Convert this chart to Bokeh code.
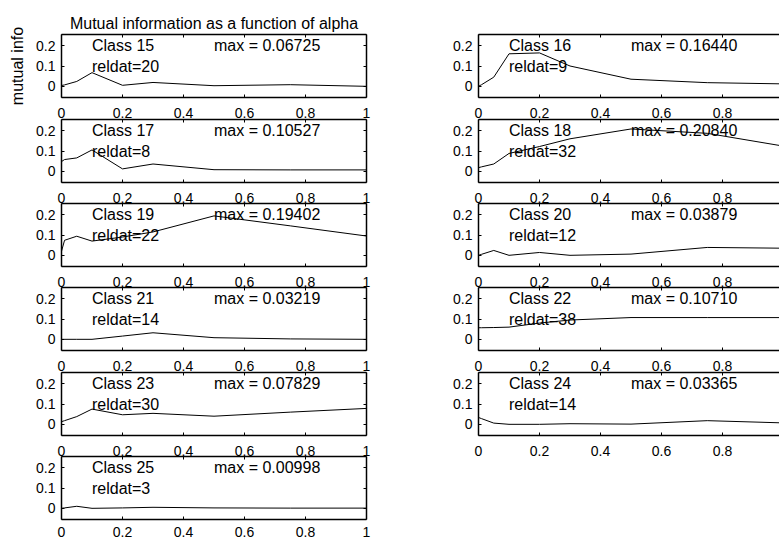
from bokeh.plotting import figure
from bokeh.layouts import row, column
from bokeh.models import LinearAxis, FixedTicker, Range1d, ColumnDataSource, CustomJSTickFormatter
from bokeh.core.properties import value
from bokeh.embed import file_html
from bokeh.resources import INLINE

# alpha grid shared by every class
alpha = [0.0, 0.01, 0.05, 0.1, 0.2, 0.3, 0.5, 0.75, 1.0]

# mutual information per class, one value per alpha
mi_15 = [0.004, 0.007, 0.024, 0.06725, 0.005, 0.019, 0.003, 0.008, 0.000]
mi_16 = [0.000, 0.008, 0.045, 0.160, 0.16440, 0.100, 0.035, 0.018, 0.012]
mi_17 = [0.048, 0.058, 0.066, 0.10527, 0.012, 0.036, 0.008, 0.007, 0.007]
mi_18 = [0.018, 0.022, 0.036, 0.088, 0.122, 0.160, 0.20840, 0.187, 0.124]
mi_19 = [0.020, 0.074, 0.094, 0.070, 0.090, 0.115, 0.19402, 0.145, 0.095]
mi_20 = [0.000, 0.005, 0.024, 0.000, 0.014, 0.000, 0.006, 0.03879, 0.035]
mi_21 = [0.000, 0.000, 0.000, 0.000, 0.016, 0.03219, 0.008, 0.002, 0.000]
mi_22 = [0.057, 0.057, 0.058, 0.060, 0.080, 0.095, 0.10710, 0.1070, 0.1069]
mi_23 = [0.013, 0.018, 0.038, 0.075, 0.047, 0.054, 0.040, 0.060, 0.07829]
mi_24 = [0.03365, 0.028, 0.006, 0.000, 0.000, 0.003, 0.001, 0.018, 0.007]
mi_25 = [0.000, 0.002, 0.00998, 0.000, 0.002, 0.005, 0.002, 0.001, 0.001]

classes = [15, 16, 17, 18, 19, 20, 21, 22, 23, 24, 25]
series = [mi_15, mi_16, mi_17, mi_18, mi_19, mi_20, mi_21, mi_22, mi_23, mi_24, mi_25]
reldat = [20, 9, 8, 32, 22, 12, 14, 38, 30, 14, 3]

x_ticks = [0, 0.2, 0.4, 0.6, 0.8, 1.0]
y_ticks = [0, 0.1, 0.2]

FONT = "Liberation Sans"
Y_RANGE = (-0.055, 0.255)
FRAME_W = 305
FRAME_H = 63
LEFT_W = 376
RIGHT_W = 779 - LEFT_W
RIGHT_FRAME_X = 478
ROW_H = [118, 84, 84, 85, 84, 88]   # vertical pitch of each row of panels
OV = 7                               # tick labels may hang into the panel below
BOX_W = 1.5


def tick_axis(ticks, labelled, standoff=3):
    ax = LinearAxis(
        ticker=FixedTicker(ticks=ticks),
        axis_line_color="black", axis_line_width=BOX_W,
        major_tick_in=3, major_tick_out=0,
        major_tick_line_color="black", major_tick_line_width=1,
        minor_tick_line_color=None,
    )
    if labelled:
        ax.formatter = CustomJSTickFormatter(code="return tick.toString();")
        ax.major_label_text_font = FONT
        ax.major_label_text_font_size = "14px"
        ax.major_label_text_color = "black"
        ax.major_label_standoff = standoff
    else:
        ax.formatter = CustomJSTickFormatter(code="return '';")
        ax.major_label_text_font_size = "0px"
        ax.major_label_standoff = 0
    return ax


def panel(i, row_idx, right_col, last):
    pitch = ROW_H[row_idx]
    top = 34 if row_idx == 0 else 1
    ov = 0 if last else OV
    h = pitch + ov
    bottom = h - top - FRAME_H
    if right_col:
        width = RIGHT_W
        left = RIGHT_FRAME_X - LEFT_W
        rb = 0
        xr = Range1d(0, (width - left) / FRAME_W)
    else:
        width = LEFT_W
        left = 61
        rb = LEFT_W - left - FRAME_W
        xr = Range1d(0, 1)

    p = figure(width=width, height=h, x_range=xr, y_range=Range1d(*Y_RANGE),
               output_backend="svg", toolbar_location=None,
               min_border_left=left, min_border_right=rb,
               min_border_top=top, min_border_bottom=bottom,
               x_axis_location=None, y_axis_location=None,
               outline_line_color=None,
               background_fill_color=None, border_fill_color=None,
               margin=(0, 0, -ov, 0))
    p.grid.visible = False

    p.add_layout(tick_axis(x_ticks, True, 7 if last else 10), "below")
    p.add_layout(tick_axis(y_ticks, True, 6), "left")
    p.add_layout(tick_axis(x_ticks, False), "above")
    if not right_col:
        p.add_layout(tick_axis(y_ticks, False), "right")

    vals = series[i]
    p.line(alpha, vals, line_color="black", line_width=1)

    src = ColumnDataSource(dict(
        x=[0.1, 0.5, 0.1],
        y=[0.2, 0.2, 0.1],
        t=[f"Class {classes[i]}", f"max = {max(vals):.5f}", f"reldat={reldat[i]}"],
    ))
    p.text(x="x", y="y", text="t", source=src, text_font=value(FONT),
           text_font_size="16px", text_color="black",
           text_align="left", text_baseline="middle")
    return p


left_figs = []
right_figs = []
for i, cls in enumerate(classes):
    row_idx = i // 2
    if i % 2 == 0:
        left_figs.append(panel(i, row_idx, False, row_idx == 5))
    else:
        right_figs.append(panel(i, row_idx, True, False))

first = left_figs[0]
first.title.text = "Mutual information as a function of alpha"
first.title.align = "center"
first.title.vertical_align = "middle"
first.title.text_font = FONT
first.title.text_font_size = "16px"
first.title.text_font_style = "normal"
first.title.text_color = "black"
first.title.standoff = 4

first_y = first.left[0]
first_y.axis_label = "mutual info"
first_y.axis_label_text_font = FONT
first_y.axis_label_text_font_size = "16px"
first_y.axis_label_text_font_style = "normal"
first_y.axis_label_text_color = "black"
first_y.axis_label_standoff = 7

layout = row(column(*left_figs, spacing=0), column(*right_figs, spacing=0), spacing=0)

open("out.html", "w").write(file_html(layout, INLINE))
